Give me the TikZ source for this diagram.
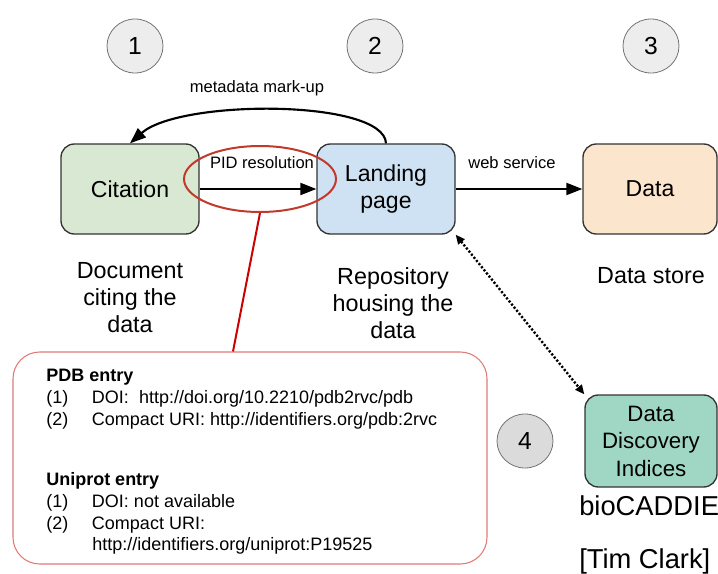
\documentclass[tikz,border=0pt]{standalone}
\usepackage{fontspec}
\setmainfont{Liberation Sans}
\usetikzlibrary{shapes.geometric,arrows.meta,calc}
\definecolor{citegreen}{HTML}{D9E8D3}
\definecolor{landblue}{HTML}{CFE2F3}
\definecolor{datapeach}{HTML}{FCE5CD}
\definecolor{indexteal}{HTML}{A0D7C4}
\definecolor{ringred}{HTML}{C0392B}
\definecolor{leadred}{HTML}{CC0000}
\definecolor{calloutred}{HTML}{E07A7A}

\begin{document}
\begin{tikzpicture}[x=0.75pt, y=-0.75pt,
    box/.style={draw=black!80, line width=1pt, rounded corners=10pt, align=center, inner sep=0pt,
      font=\fontsize{17.3}{20.5}\selectfont},
    num/.style={ellipse, draw=black!55, line width=0.6pt, minimum width=42pt, minimum height=40.5pt,
      inner sep=0pt, font=\fontsize{18.5}{20}\selectfont},
    lbl/.style={anchor=base, inner sep=0pt, font=\fontsize{12.4}{15}\selectfont},
    caption/.style={align=center, inner sep=0pt, font=\fontsize{17.5}{20.4}\selectfont},
    entry/.style={anchor=base west, inner sep=0pt, font=\fontsize{13.5}{16}\selectfont},
    flow/.style={line width=1.6pt, -{Triangle[length=12pt, width=9pt]}}]
  \useasboundingbox (0,0) rectangle (718,574);

  \node[num, fill=black!7]  (markone)   at (135,46)  {1};
  \node[num, fill=black!7]  (marktwo)   at (375,46)  {2};
  \node[num, fill=black!7]  (markthree) at (651,46)  {3};
  \node[num, fill=black!14] (markfour)  at (525,441) {4};

  \node[box, fill=citegreen, minimum width=103.5pt, minimum height=67.5pt] (citation) at (130,189) {Citation};
  \node[box, fill=landblue, minimum width=103.5pt, minimum height=67.5pt] (landing) at (386,189) {Landing\\page};
  \node[box, fill=datapeach, minimum width=100.5pt, minimum height=67.5pt] (data) at (650,189) {Data};
  \node[box, fill=indexteal, minimum width=99pt, minimum height=69pt,
    font=\fontsize{16.7}{20.6}\selectfont] (indices) at (651,441) {Data\\Discovery\\Indices};

  \node[lbl] (markuplbl) at (257,93)  {metadata mark-up};
  \node[lbl] (pidlbl)    at (262,169) {PID resolution};
  \node[lbl] (weblbl)    at (512,169) {web service};

  \node[caption] (citecap) at (130,297.5) {Document\\citing the\\data};
  \node[caption] (landcap) at (393,303)   {Repository\\housing the\\data};
  \node[caption, anchor=base] (datacap) at (651,283) {Data store};

  \draw[flow] (landing.north) .. controls (384,99) and (180,99) .. (citation.north);
  \draw[flow] (citation.east) -- (landing.west);
  \draw[flow] (landing.east) -- (data.west);
  \draw[line width=1.8pt, dash pattern=on 1.6pt off 1.4pt,
    {Triangle[length=7pt, width=6pt]}-{Triangle[length=7pt, width=6pt]}] (landing.south east) -- (indices.north west);

  \node[ellipse, draw=ringred, line width=1.5pt, minimum width=114pt, minimum height=49.5pt] (pidring) at (260,179) {};
  \node[draw=calloutred, line width=0.8pt, rounded corners=20pt, minimum width=355.5pt, minimum height=159pt] (callout) at (250,458) {};
  \draw[leadred, line width=1.5pt] (pidring.south) -- ($(callout.north)+(-17,0)$);

  \node[entry] (pdbhead)  at (46,381.5) {\textbf{PDB entry}};
  \node[entry] (pdbdoi)   at (46,403.5) {\makebox[34.3pt][l]{(1)}DOI:\ \ http://doi.org/10.2210/pdb2rvc/pdb};
  \node[entry] (pdbcuri)  at (46,425.5) {\makebox[34.3pt][l]{(2)}Compact URI: http://identifiers.org/pdb:2rvc};
  \node[entry] (uniphead) at (46,485.5) {\textbf{Uniprot entry}};
  \node[entry] (unipdoi)  at (46,507.5) {\makebox[34.3pt][l]{(1)}DOI: not available};
  \node[entry] (unipcuri) at (46,529)   {\makebox[34.3pt][l]{(2)}Compact URI:};
  \node[entry] (unipurl)  at (92,550.5) {http://identifiers.org/uniprot:P19525};

  \node[anchor=base west, inner sep=0pt, font=\fontsize{20.5}{24}\selectfont] (biocaddie) at (579,515) {bioCADDIE};
  \node[anchor=base west, inner sep=0pt, font=\fontsize{20.5}{24}\selectfont] (credit) at (579,568) {[Tim Clark]};
\end{tikzpicture}
\end{document}
